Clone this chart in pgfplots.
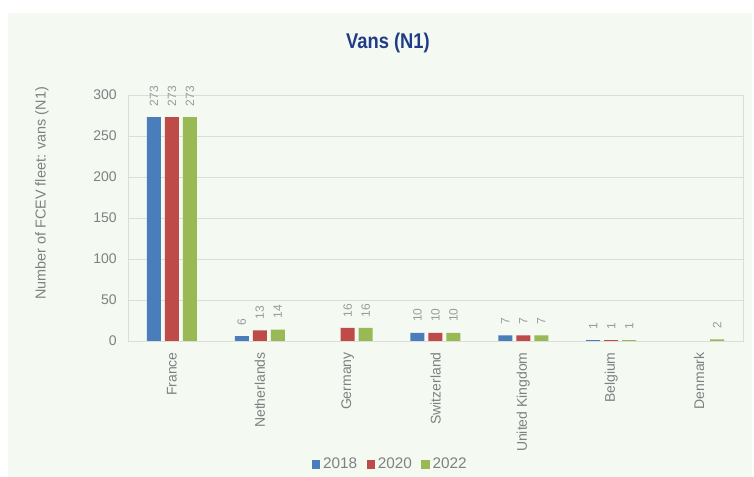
\documentclass[border=0pt]{standalone}
\usepackage{pgfplots}
\pgfplotsset{compat=1.18}
\usepackage{fontspec}
\setmainfont{Liberation Sans}

\definecolor{serA}{HTML}{4A7EBB}
\definecolor{serB}{HTML}{BE4B48}
\definecolor{serC}{HTML}{98B954}
\definecolor{panel}{HTML}{F4F9F2}
\definecolor{gridgray}{HTML}{DCDCDC}
\definecolor{tickgray}{HTML}{808080}
\definecolor{valgray}{HTML}{9A9A9A}
\definecolor{titleblue}{HTML}{213C86}

\begin{document}
\begin{tikzpicture}[x=1pt,y=1pt]
% page and panel
\fill[white] (-96,-102) rectangle (469.5,255.75);
\fill[panel] (-90,-102) rectangle (468,246);
\node[font=\bfseries\fontsize{16}{18}\selectfont, text=titleblue, xscale=0.86] at (195,223.5) {Vans (N1)};
\begin{axis}[
  at={(0,0)}, anchor=south west,
  scale only axis, width=461.25pt, height=184.5pt,
  ybar=3pt, bar width=10.5pt,
  xmin=-0.5, xmax=6.5, ymin=0, ymax=300,
  ytick={0,50,...,300},
  xtick={0,...,6},
  xticklabels={France,Netherlands,Germany,Switzerland,United Kingdom,Belgium,Denmark},
  xticklabel style={yshift=-5pt, rotate=90, anchor=east, font=\fontsize{10.5}{12}\selectfont, text=tickgray},
  yticklabel style={xshift=-5pt, font=\fontsize{10.5}{12}\selectfont, text=tickgray},
  /pgf/number format/assume math mode=true,
  major tick length=0pt,
  axis line style={draw=gridgray},
  ymajorgrids, grid style={draw=gridgray, line width=0.5pt},
  ylabel={Number of FCEV fleet: vans (N1)},
  ylabel style={at={(axis description cs:-0.14,0.6)}, anchor=center, font=\fontsize{10.8}{12}\selectfont, text=tickgray},
  nodes near coords,
  every node near coord/.append style={yshift=4.6pt, rotate=90, anchor=west, font=\fontsize{9}{10}\selectfont, text=valgray},
  legend style={at={(axis description cs:0.427,-0.5)}, anchor=center, draw=none, fill=none,
    legend columns=3, font=\fontsize{11.5}{13}\selectfont, text=tickgray,
    /tikz/every even column/.append style={column sep=5pt}},
  legend image code/.code={\fill[#1] (0pt,-3.4pt) rectangle (6.5pt,3.1pt);},
]
\addplot[fill=serA, draw=none] coordinates {(0,273) (1,6) (3,10) (4,7) (5,1)};
\addplot[fill=serB, draw=none] coordinates {(0,273) (1,13) (2,16) (3,10) (4,7) (5,1)};
\addplot[fill=serC, draw=none] coordinates {(0,273) (1,14) (2,16) (3,10) (4,7) (5,1) (6,2)};
\legend{2018,2020,2022}
\end{axis}
\end{tikzpicture}
\end{document}
